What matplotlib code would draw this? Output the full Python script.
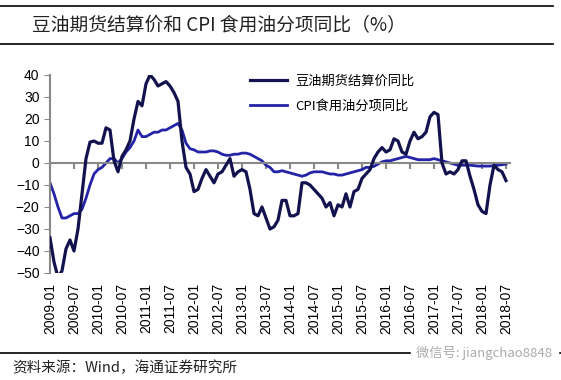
import numpy as np
import pandas as pd
import matplotlib
matplotlib.use("Agg")
import matplotlib.pyplot as plt
import matplotlib.transforms as mtransforms

plt.rcParams['font.family'] = ['Noto Sans CJK SC', 'DejaVu Sans']

# monthly data, 2009-01 .. 2018-07
months = pd.period_range("2009-01", "2018-07", freq="M")

soy_oil = [-34, -45, -52, -49, -39, -35, -40, -30, -14, 2,
           9.5, 10, 9, 9, 16, 15, 1, -4, 3, 6,
           10, 20, 28, 26, 36, 40, 38, 35, 36, 37,
           35, 32, 28, 10, -2, -5, -13, -12, -7, -3,
           -6, -9, -5, -4, -1, 2, -6, -4, -3, -4,
           -12, -23, -24, -20, -25, -30, -29, -26, -17, -17,
           -24, -24, -23, -9, -9, -10, -12, -14, -16, -20,
           -18, -24, -19, -20, -14, -20, -13, -12, -7, -5,
           -3, 2, 5, 7, 5, 6, 11, 10, 5, 4,
           10, 14, 11, 12, 14, 21, 23, 22, 0, -5,
           -4, -5, -3, 1, 1, -6, -12, -19, -22, -23,
           -10, -1, -3, -4, -8]

cpi_oil = [-9, -14, -20, -25, -25, -24, -23, -23, -21, -16,
           -10, -5, -3, -2, 0, 2, 2, 0, 2, 5,
           7, 10, 15, 12, 12, 13, 14, 14, 15, 15,
           16, 17, 18, 15, 9, 6.5, 6, 5, 5, 5,
           5.5, 5.5, 5, 4, 3.5, 3.5, 4, 4, 4.5, 4.5,
           4, 3, 2, 1, -1, -2, -4, -4, -3.5, -4,
           -4.5, -5, -5.5, -6, -5.5, -4.5, -4, -4, -4, -4.5,
           -5, -5, -5.5, -5.5, -5, -4.5, -4, -3.5, -3, -2,
           -2, -1.5, -0.5, 0.5, 1, 1, 1.5, 2, 2.5, 3,
           2.5, 2, 1.5, 1.5, 1.5, 1.5, 2, 1.5, 1, 0.5,
           0, -0.5, -1, -1, -1, -1, -1.2, -1.4, -1.4, -1.4,
           -1.4, -1.2, -1, -0.8, -0.5]

tick_labels = [str(p) for p in months[::6]]

x = np.arange(len(months))

fig = plt.figure(figsize=(5.61, 3.80), dpi=100)
ax = fig.add_axes([50/561, 1 - 273/380, 460/561, 198/380])

ax.plot(x, soy_oil, color="#12124e", lw=2.3, label="豆油期货结算价同比", zorder=3)
ax.plot(x, cpi_oil, color="#2323a8", lw=2.0, label="CPI食用油分项同比", zorder=2)

ax.set_ylim(-50, 40)
ax.set_xlim(0, 115)
ax.set_yticks(range(-50, 41, 10))
ax.tick_params(axis='y', labelsize=10, color="#888888", length=4, direction='out')
for t in ax.get_yticklabels():
    t.set_family(['Liberation Sans'])

for s in ["top", "right"]:
    ax.spines[s].set_visible(False)
ax.spines["left"].set_color("#888888")
ax.spines["left"].set_linewidth(1.5)
ax.spines["bottom"].set_position(("data", 0))
ax.spines["bottom"].set_color("#888888")
ax.spines["bottom"].set_linewidth(1.5)

ax.set_xticks(x[::6])
ax.tick_params(axis='x', labelbottom=False, color="#888888", length=4, width=1.5, direction='out')

trans = mtransforms.blended_transform_factory(ax.transData, ax.transAxes)
for xi, lab in zip(x[::6], tick_labels):
    ax.text(xi, -0.05, lab, transform=trans, rotation=90, ha='center', va='top',
            fontsize=10, family=['Liberation Sans'])

leg = ax.legend(loc='upper left', bbox_to_anchor=(0.41, 1.06), frameon=False,
                fontsize=9.5, handlelength=2.8, labelspacing=0.9, handletextpad=0.6)

# title and rules
fig.add_artist(plt.Line2D([0, 0.985], [1 - 6/380, 1 - 6/380], color="black", lw=1.2))
fig.add_artist(plt.Line2D([0, 0.985], [1 - 44/380, 1 - 44/380], color="black", lw=1.2))
fig.text(32/561, 1 - 26/380, "豆油期货结算价和 CPI 食用油分项同比（%）",
         fontsize=13.5, va='center', ha='left', color="#222222", fontweight='medium')

fig.add_artist(plt.Line2D([0, 1], [1 - 353/380, 1 - 353/380], color="black", lw=1.2))
fig.text(12/561, 1 - 368/380, "资料来源：Wind，海通证券研究所", fontsize=10.5,
         va='center', ha='left', color="#222222")
fig.text(0.985, 1 - 353/380, "微信号: jiangchao8848", fontsize=9.5, va='center',
         ha='right', color="#aaaaaa", backgroundcolor="white")

fig.savefig("out.png", dpi=100)
